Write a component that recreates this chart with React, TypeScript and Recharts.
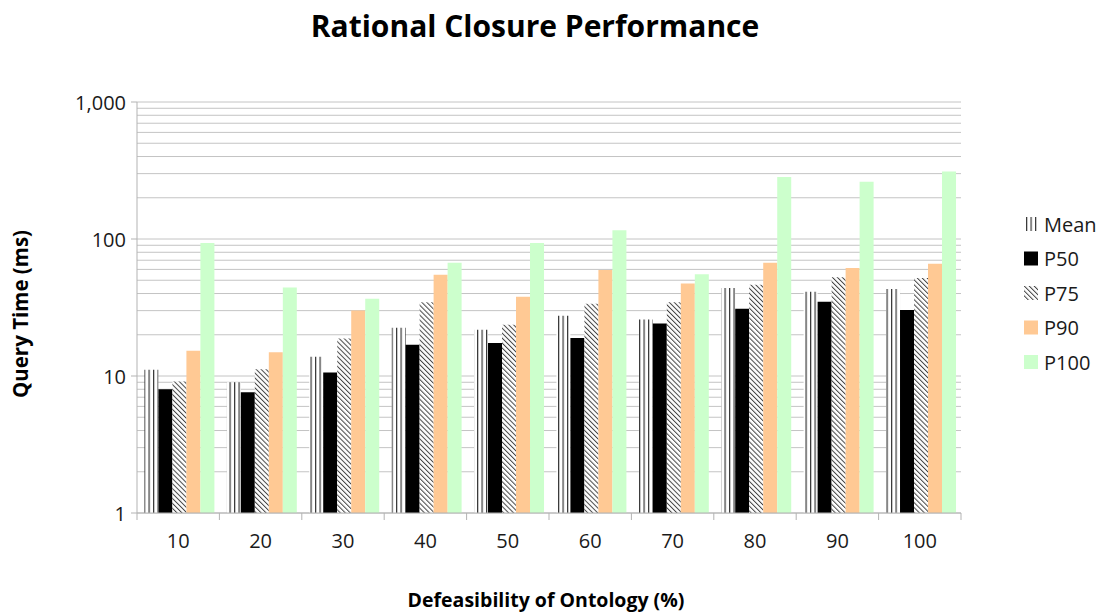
import React from 'react';
import { BarChart, Bar, XAxis, YAxis, CartesianGrid } from 'recharts';

const categories = ['10', '20', '30', '40', '50', '60', '70', '80', '90', '100'];
const meanValues = [11.1, 9.0, 13.8, 22.5, 21.8, 27.5, 25.9, 43.9, 41.2, 43.2];
const p50Values = [8.0, 7.6, 10.6, 16.9, 17.4, 18.9, 24.2, 31.0, 34.9, 30.3];
const p75Values = [9.1, 11.2, 18.8, 34.5, 23.7, 33.7, 34.5, 46.4, 52.5, 51.9];
const p90Values = [15.3, 14.9, 30.1, 54.9, 37.9, 59.4, 47.4, 67.2, 61.4, 66.0];
const p100Values = [93.5, 44.3, 36.7, 67.2, 93.5, 116, 55.2, 283.6, 262, 311];

const majorTicks = [1, 10, 100, 1000];
const gridValues = [
  1, 2, 3, 4, 5, 6, 7, 8, 9,
  10, 20, 30, 40, 50, 60, 70, 80, 90,
  100, 200, 300, 400, 500, 600, 700, 800, 900,
  1000,
];

const series = [
  { key: 'mean', name: 'Mean', fill: 'url(#meanPattern)' },
  { key: 'p50', name: 'P50', fill: '#000000' },
  { key: 'p75', name: 'P75', fill: 'url(#p75Pattern)' },
  { key: 'p90', name: 'P90', fill: '#ffc994' },
  { key: 'p100', name: 'P100', fill: '#ccffcc' },
];

const data = categories.map((c, i) => ({
  name: c,
  mean: meanValues[i],
  p50: p50Values[i],
  p75: p75Values[i],
  p90: p90Values[i],
  p100: p100Values[i],
}));

const W = 1100;
const H = 613;
const margin = { top: 102, right: 139, left: 57, bottom: 70 };
const plotLeft = 137;
const plotRight = 961;
const halfBand = (plotRight - plotLeft) / categories.length / 2;
const font = '"Open Sans", sans-serif';
const axisColor = '#b3b3b3';

const YTick = (props: any) => {
  const { x, y, payload } = props;
  if (!majorTicks.includes(payload.value)) return null;
  return (
    <g>
      <line x1={x + 2} x2={x + 8} y1={y} y2={y} stroke={axisColor} />
      <text x={x - 3} y={y} textAnchor="end" dominantBaseline="central" fontSize={20} fill="#1a1a1a" fontFamily={font}>
        {payload.value.toLocaleString('en-US')}
      </text>
    </g>
  );
};

const XTick = (props: any) => {
  const { x, y, payload, index } = props;
  const axisY = y - 8;
  return (
    <g>
      <line x1={x - halfBand} x2={x - halfBand} y1={axisY} y2={axisY + 7} stroke={axisColor} />
      {index === categories.length - 1 && (
        <line x1={x + halfBand} x2={x + halfBand} y1={axisY} y2={axisY + 7} stroke={axisColor} />
      )}
      <text x={x} y={axisY + 27} textAnchor="middle" dominantBaseline="central" fontSize={20} fill="#1a1a1a" fontFamily={font}>
        {payload.value}
      </text>
    </g>
  );
};

export default function App() {
  return (
    <div style={{ position: 'absolute', left: 0, top: 0, width: W, height: H, background: '#fff' }}>
      <BarChart width={W} height={H} data={data} margin={margin} barCategoryGap="9%" barGap={0}>
        <defs>
          <pattern id="meanPattern" patternUnits="userSpaceOnUse" width={4.5} height={4}>
            <rect x={0} y={0} width={4.5} height={4} fill="#ffffff" />
            <rect x={0} y={0} width={1.2} height={4} fill="#333333" />
          </pattern>
          <pattern id="p75Pattern" patternUnits="userSpaceOnUse" width={3.5} height={3.5} patternTransform="rotate(-45)">
            <rect x={0} y={0} width={3.5} height={3.5} fill="#ffffff" />
            <rect x={0} y={0} width={1} height={3.5} fill="#444444" />
          </pattern>
        </defs>
        <CartesianGrid vertical={false} stroke="#c4c4c4" />
        <XAxis
          dataKey="name"
          height={30}
          axisLine={{ stroke: axisColor }}
          tickLine={false}
          tick={<XTick />}
          interval={0}
        />
        <YAxis
          scale="log"
          domain={[1, 1000]}
          ticks={gridValues}
          allowDataOverflow
          width={80}
          axisLine={{ stroke: axisColor }}
          tickLine={false}
          tick={<YTick />}
          interval={0}
        />
        <YAxis
          yAxisId="right"
          orientation="right"
          scale="log"
          domain={[1, 1000]}
          allowDataOverflow
          width={0}
          axisLine={{ stroke: axisColor }}
          tickLine={false}
          tick={false}
        />
        {series.map((s) => (
          <Bar key={s.key} dataKey={s.key} name={s.name} fill={s.fill} isAnimationActive={false} />
        ))}
      </BarChart>
      <svg width={W} height={H} style={{ position: 'absolute', left: 0, top: 0, pointerEvents: 'none' }}>
        <text x={535} y={37} textAnchor="middle" fontSize={30} fontWeight={700} fontFamily={font} fill="#000">
          Rational Closure Performance
        </text>
        <text x={546} y={607} textAnchor="middle" fontSize={19.5} fontWeight={700} fontFamily={font} fill="#000">
          Defeasibility of Ontology (%)
        </text>
        <text
          x={28}
          y={314}
          textAnchor="middle"
          fontSize={20.5}
          fontWeight={700}
          fontFamily={font}
          fill="#000"
          transform="rotate(-90 28 314)"
        >
          Query Time (ms)
        </text>
        {series.map((s, i) => {
          const cy = 224 + i * 34.5;
          return (
            <g key={s.key}>
              <rect x={1024} y={cy - 7} width={14} height={14} fill={s.fill} />
              <text x={1044} y={cy} dominantBaseline="central" fontSize={20} fontFamily={font} fill="#1a1a1a">
                {s.name}
              </text>
            </g>
          );
        })}
      </svg>
    </div>
  );
}
